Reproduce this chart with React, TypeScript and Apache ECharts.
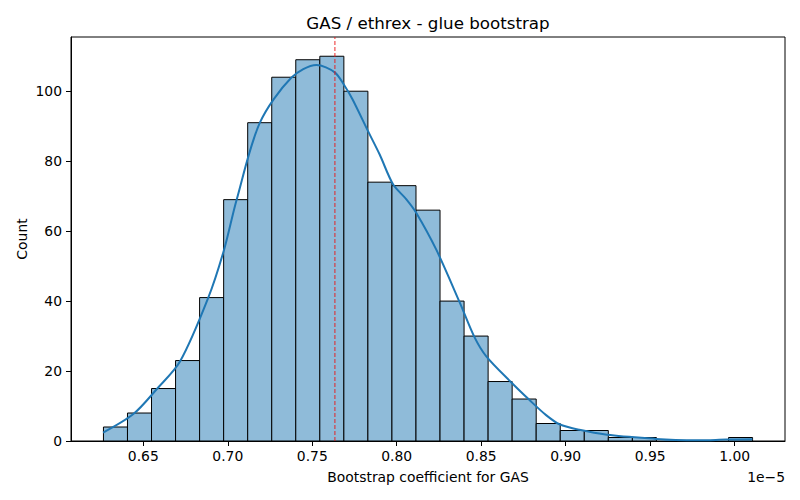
import React, { useEffect, useRef } from "react";
import * as echarts from "echarts";

// Histogram bins (x in units of 1e-5)
const BIN_START = 0.6264;
const BIN_WIDTH = 0.01423;
const COUNTS = [4, 8, 15, 23, 41, 69, 91, 104, 109, 110, 100, 74, 73, 66, 40, 30, 17, 12, 5, 3, 3, 1, 1, 0, 0, 0, 1];

// KDE curve
const KDE_X = [0.6262, 0.6441, 0.6579, 0.6717, 0.6884, 0.6978, 0.7052, 0.719, 0.7377, 0.7525, 0.7633, 0.7692, 0.7738, 0.783, 0.7899, 0.7978, 0.8057, 0.8116, 0.8234, 0.8372, 0.846, 0.853, 0.8677, 0.8786, 0.8884, 0.8963, 0.9081, 0.9245, 0.9534, 0.965, 0.979, 0.995, 1.0105];
const KDE_Y = [2.4, 7.7, 14.8, 22.7, 40.9, 54.7, 68.9, 91.0, 103.9, 107.5, 105.4, 101.5, 97.7, 88.6, 81.9, 73.4, 69.1, 65.2, 54.7, 39.7, 29.7, 24.2, 16.8, 11.7, 7.4, 4.8, 3.2, 1.8, 0.6, 0.3, 0.2, 0.4, 0.5];

const REF_X = 0.7634;
const X_TICKS = [0.65, 0.7, 0.75, 0.8, 0.85, 0.9, 0.95, 1.0];
const Y_TICKS = [0, 20, 40, 60, 80, 100];
const X_MIN = 0.6072;
const X_MAX = 1.0298;
const Y_MAX = 115.5;

const TITLE = "GAS / ethrex - glue bootstrap";
const X_LABEL = "Bootstrap coefficient for GAS";
const Y_LABEL = "Count";
const OFFSET_TEXT = "1e\u22125";

const FONT = "DejaVu Sans";

export default function App() {
  const ref = useRef<HTMLDivElement>(null);
  useEffect(() => {
    if (!ref.current) return;
    const chart = echarts.init(ref.current, undefined, { renderer: "svg" });
    const bins = COUNTS.map((c, i) => [BIN_START + i * BIN_WIDTH, BIN_START + (i + 1) * BIN_WIDTH, c]).filter((d) => d[2] > 0);
    const kde = KDE_X.map((x, i) => [x, KDE_Y[i]]);
    const gl = 71, gr = 15, gt = 37, gb = 59;
    const plotCx = gl + (800 - gl - gr) / 2;
    chart.setOption({
      animation: false,
      textStyle: { fontFamily: FONT },
      grid: { left: gl, right: gr, top: gt, bottom: gb, show: true, borderColor: "#000", borderWidth: 1, backgroundColor: "transparent" },
      xAxis: {
        type: "value",
        min: X_MIN,
        max: X_MAX,
        axisLine: { show: true, lineStyle: { color: "#000", width: 1 } },
        axisTick: { show: true, length: 5, lineStyle: { color: "#000", width: 1 }, customValues: X_TICKS },
        axisLabel: { color: "#000", fontSize: 13.9, fontFamily: FONT, margin: 8, customValues: X_TICKS, formatter: (v: number) => v.toFixed(2) },
        splitLine: { show: false },
      },
      yAxis: {
        type: "value",
        min: 0,
        max: Y_MAX,
        axisLine: { show: true, lineStyle: { color: "#000", width: 1 } },
        axisTick: { show: true, length: 5, lineStyle: { color: "#000", width: 1 }, customValues: Y_TICKS },
        axisLabel: { color: "#000", fontSize: 13.9, fontFamily: FONT, margin: 9, customValues: Y_TICKS, formatter: (v: number) => String(v) },
        splitLine: { show: false },
      },
      series: [
        {
          type: "custom",
          data: bins,
          encode: { x: [0, 1], y: 2 },
          z: 2,
          renderItem: (params: any, api: any) => {
            const p0 = api.coord([api.value(0), api.value(2)]);
            const p1 = api.coord([api.value(1), 0]);
            return {
              type: "rect",
              shape: { x: p0[0], y: p0[1], width: p1[0] - p0[0], height: p1[1] - p0[1] },
              style: { fill: "#8fbbd9", stroke: "#000", lineWidth: 1 },
            };
          },
        },
        {
          type: "line",
          data: kde,
          smooth: 0.3,
          showSymbol: false,
          symbol: "none",
          z: 3,
          lineStyle: { color: "#1f77b4", width: 2 },
        },
        {
          type: "line",
          data: [[REF_X, 0], [REF_X, Y_MAX]],
          showSymbol: false,
          symbol: "none",
          z: 4,
          lineStyle: { color: "rgba(235,20,20,0.9)", width: 1, type: [4, 2] },
        },
      ],
      graphic: [
        { type: "text", x: plotCx, y: 23, style: { text: TITLE, fontSize: 16.7, fontFamily: FONT, fill: "#000", align: "center", verticalAlign: "middle" } },
        { type: "text", x: plotCx, y: 477, style: { text: X_LABEL, fontSize: 13.9, fontFamily: FONT, fill: "#000", align: "center", verticalAlign: "middle" } },
        { type: "text", x: 22, y: gt + (500 - gt - gb) / 2, rotation: Math.PI / 2, style: { text: Y_LABEL, fontSize: 13.9, fontFamily: FONT, fill: "#000", align: "center", verticalAlign: "middle" } },
        { type: "text", x: 785, y: 477, style: { text: OFFSET_TEXT, fontSize: 13.9, fontFamily: FONT, fill: "#000", align: "right", verticalAlign: "middle" } },
      ],
    });
    return () => chart.dispose();
  }, []);
  return <div ref={ref} style={{ position: "fixed", left: 0, top: 0, width: 800, height: 500, background: "#fff" }} />;
}
